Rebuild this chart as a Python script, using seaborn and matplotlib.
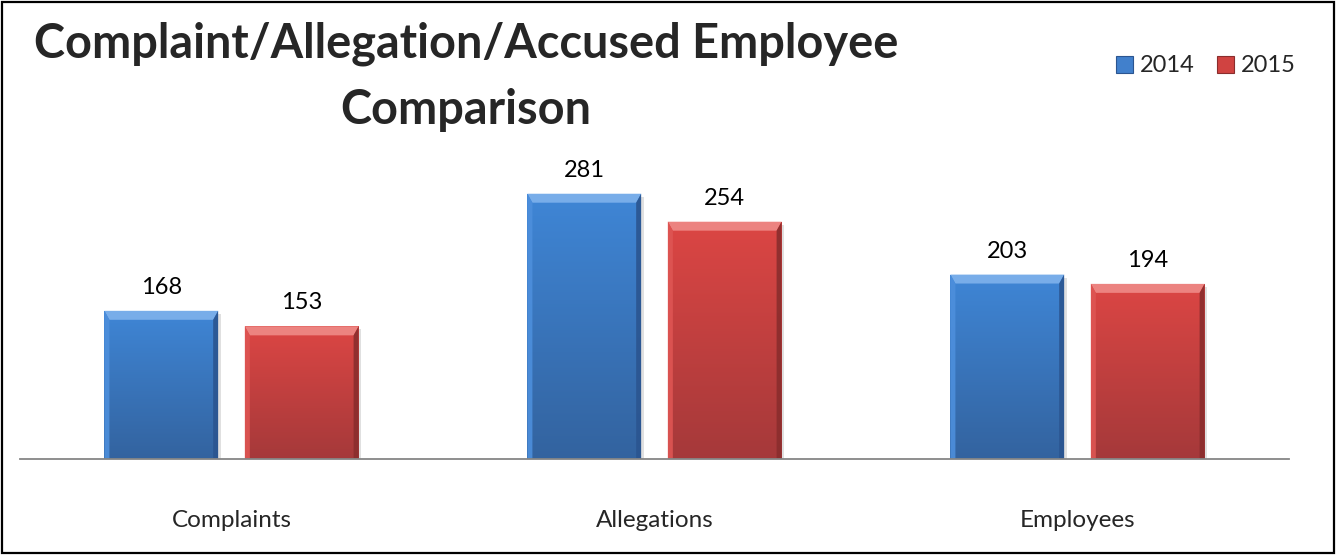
import numpy as np
import pandas as pd
import matplotlib
matplotlib.use("Agg")
import matplotlib.pyplot as plt
import seaborn as sns
from matplotlib.patches import Rectangle, Polygon, Patch
from matplotlib.colors import LinearSegmentedColormap

# ---- data -------------------------------------------------------------
categories = ["Complaints", "Allegations", "Employees"]
years = ["2014", "2015"]
values_2014 = [168, 281, 203]
values_2015 = [153, 254, 194]
title_text = "Complaint/Allegation/Accused Employee\nComparison"

df = pd.DataFrame({
    "category": categories * 2,
    "year": [years[0]] * 3 + [years[1]] * 3,
    "count": values_2014 + values_2015,
})

# ---- style ------------------------------------------------------------
sns.set_theme(style="white")
plt.rcParams["font.family"] = ["Lato", "DejaVu Sans"]

base_colors = {"2014": "#4180cc", "2015": "#d04341"}
shades = {
    "2014": dict(top="#3f86d6", bottom="#33639f", bevel_top="#7fb2ec",
                 bevel_left="#4d8fdc", bevel_right="#2b5590"),
    "2015": dict(top="#dc4644", bottom="#a5393a", bevel_top="#ef8a87",
                 bevel_left="#de5553", bevel_right="#8a2d2d"),
}

W, H, DPI = 1336, 555, 100
fig = plt.figure(figsize=(W / DPI, H / DPI), dpi=DPI)
fig.patch.set_facecolor("white")

ax_left, ax_right, ax_bottom, ax_top = 20, 1289, 459, 60
ax = fig.add_axes([ax_left / W, 1 - ax_bottom / H,
                   (ax_right - ax_left) / W, (ax_bottom - ax_top) / H])

sns.barplot(data=df, x="category", y="count", hue="year", order=categories,
            hue_order=years, palette=base_colors, width=0.664, gap=0.19,
            saturation=1, legend=False, ax=ax, linewidth=0)

y_min, y_max = 25, 410
ax.set_xlim(-0.5, len(categories) - 0.5)
ax.set_ylim(y_min, y_max)

# pixel -> data conversion for bevel sizes
px_x = (ax.get_xlim()[1] - ax.get_xlim()[0]) / (ax_right - ax_left)
px_y = (y_max - y_min) / (ax_bottom - ax_top)

bevel_top, bevel_side = 9, 5

bars = list(ax.patches)
bar_years = [years[0]] * len(categories) + [years[1]] * len(categories)
bar_values = values_2014 + values_2015

for bar, yr, val in zip(bars, bar_years, bar_values):
    x0 = bar.get_x()
    w = bar.get_width()
    x1 = x0 + w
    top = bar.get_y() + bar.get_height()
    bottom = y_min
    sh = shades[yr]

    # soft drop shadow on right
    shadow = Rectangle((x1, bottom), 2.5 * px_x, top - bottom - 3 * px_y,
                       facecolor="#000000", alpha=0.12, edgecolor="none", zorder=1.5)
    ax.add_patch(shadow)

    # vertical gradient body clipped to the bar
    cmap = LinearSegmentedColormap.from_list("g", [sh["bottom"], sh["top"]])
    grad = np.linspace(0, 1, 256).reshape(-1, 1)
    im = ax.imshow(grad, cmap=cmap, aspect="auto", origin="lower",
                   extent=(x0, x1, bottom, top), zorder=2)
    im.set_clip_path(bar)
    bar.set_alpha(0)

    bx, by = bevel_side * px_x, bevel_top * px_y
    polys = [
        ([(x0, top), (x1, top), (x1 - bx, top - by), (x0 + bx, top - by)], sh["bevel_top"]),
        ([(x0, top), (x0 + bx, top - by), (x0 + bx, bottom), (x0, bottom)], sh["bevel_left"]),
        ([(x1, top), (x1 - bx, top - by), (x1 - bx, bottom), (x1, bottom)], sh["bevel_right"]),
    ]
    for pts, col in polys:
        ax.add_patch(Polygon(pts, closed=True, facecolor=col, edgecolor="none",
                             alpha=0.9, zorder=3))

    ax.text(x0 + w / 2, top + 13 * px_y, f"{val}", ha="center", va="bottom",
            fontsize=17, color="black", zorder=5)

# axis styling
for side in ["top", "right", "left"]:
    ax.spines[side].set_visible(False)
ax.spines["bottom"].set_color("#868686")
ax.spines["bottom"].set_linewidth(1.3)
ax.spines["bottom"].set_zorder(6)
ax.set_yticks([])
ax.set_xlabel("")
ax.set_ylabel("")
ax.tick_params(axis="x", length=0, pad=37, labelsize=17.5)
ax.set_facecolor("none")

# title, sized to span the intended width
title = fig.text(466 / W, 1 - 77 / H, title_text, ha="center", va="center",
                 fontsize=30, fontweight="bold", linespacing=1.62,
                 multialignment="center")
first_line = fig.text(0, 0, title_text.split("\n")[0], fontsize=30, fontweight="bold")
fig.canvas.draw()
wpx = first_line.get_window_extent().width
first_line.remove()
title.set_fontsize(30 * 865 / wpx)

# legend
handles = [Patch(facecolor=base_colors[y], edgecolor=shades[y]["bevel_right"], lw=0.8)
           for y in years]
fig.legend(handles, years, loc="center", bbox_to_anchor=(1206 / W, 1 - 66 / H),
           ncol=2, frameon=False, fontsize=17, handlelength=0.7, handleheight=0.7,
           handletextpad=0.3, columnspacing=0.95, borderaxespad=0)

# outer frame
fig.patches.append(Rectangle((0.0015, 0.003), 0.997, 0.994, transform=fig.transFigure,
                             fill=False, edgecolor="black", lw=1.6, zorder=10))

fig.savefig("out.png", dpi=DPI, facecolor="white")
